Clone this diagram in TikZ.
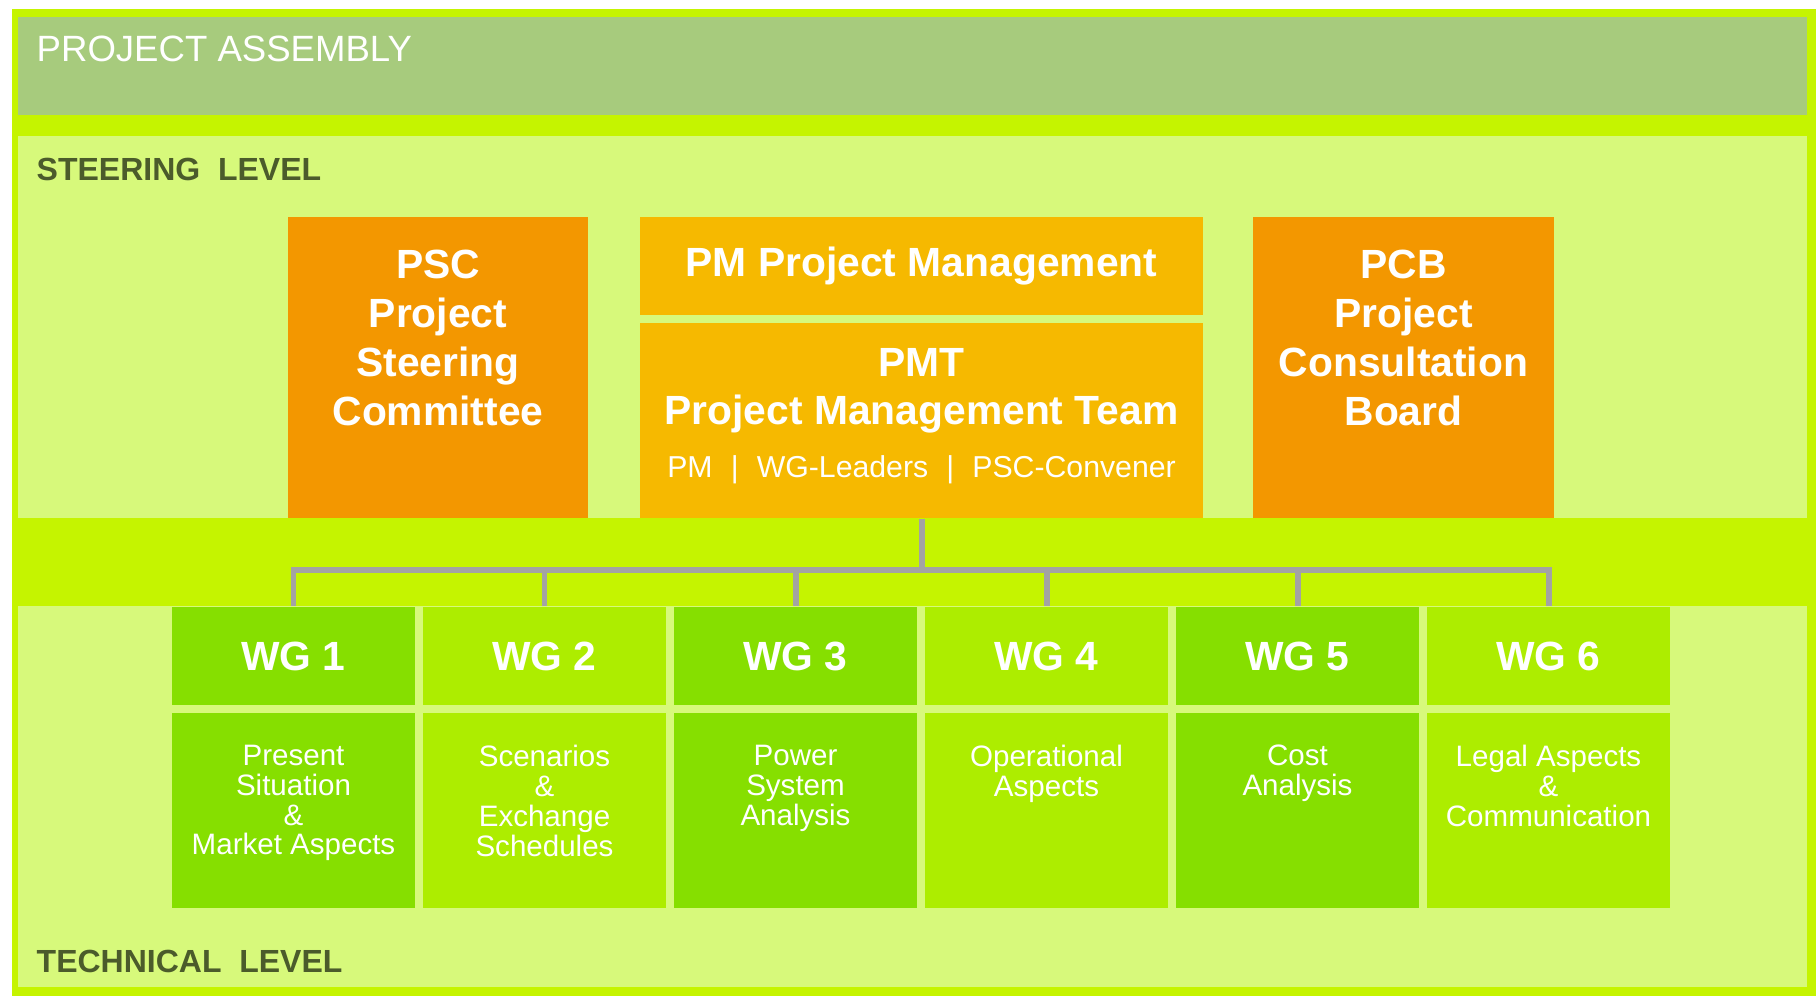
\documentclass[tikz,border=0pt]{standalone}
\usepackage{fontspec}
\setmainfont{Liberation Sans}
\usepackage{tikz}
\usetikzlibrary{positioning}
\definecolor{framegreen}{HTML}{C5F400}
\definecolor{assembly}{HTML}{A7CB7D}
\definecolor{panel}{HTML}{D7F97B}
\definecolor{steer}{HTML}{F39700}
\definecolor{mgmt}{HTML}{F6B900}
\definecolor{wgdark}{HTML}{86DF00}
\definecolor{wglight}{HTML}{ADED00}
\definecolor{linkgray}{HTML}{A3A3A3}
\definecolor{leveltext}{HTML}{4B5B2B}

\begin{document}
\begin{tikzpicture}[x=0.01cm, y=-0.01cm,
    box/.style={inner sep=0pt, minimum width=2.43cm},
    bigtxt/.style={text=white, font=\fontsize{11.6}{13.9}\selectfont\bfseries, align=center, inner sep=0pt},
    smalltxt/.style={text=white, font=\fontsize{8.4}{8.5}\selectfont, align=center, inner sep=0pt},
    level/.style={font=\fontsize{9.1}{11}\selectfont\bfseries, text=leveltext, anchor=base west, inner sep=0pt},
    link/.style={draw=linkgray, line width=1.7pt}]
    \useasboundingbox (0,0) rectangle (1816,996);
    \fill[white] (0,0) rectangle (1816,996);
    \fill[framegreen] (12,9) rectangle (1816,996);
    \fill[assembly] (18,17) rectangle (1807,115);
    \fill[panel] (18,136) rectangle (1807,518);
    \fill[panel] (18,606) rectangle (1807,987);

    \node[level, text=white, font=\fontsize{10.4}{12}\selectfont] (asmlabel) at (36,61) {PROJECT ASSEMBLY};
    \node[level] (steerlabel) at (36,180) {STEERING~\ LEVEL};
    \node[level] (techlabel) at (36,972) {TECHNICAL~\ LEVEL};

    % steering level
    \node[fill=steer, inner sep=0pt, minimum width=3cm, minimum height=3.01cm] (psc) at (438,367.5) {};
    \node[bigtxt, below=0.33cm of psc.north] (psctext) {PSC\\Project\\Steering\\Committee};
    \node[fill=steer, inner sep=0pt, minimum width=3cm, minimum height=3.01cm] (pcb) at (1403.5,367.5) {};
    \node[bigtxt, below=0.33cm of pcb.north] (pcbtext) {PCB\\Project\\Consultation\\Board};
    \node[fill=mgmt, bigtxt, minimum width=5.63cm, minimum height=0.98cm] (pm) at (921.5,266) {PM Project Management};
    \node[fill=mgmt, inner sep=0pt, minimum width=5.63cm, minimum height=1.95cm] (pmt) at (921.5,420.5) {};
    \node[bigtxt, below=0.25cm of pmt.north] (pmttext) {PMT\\Project Management Team};
    \node[smalltxt, font=\fontsize{8.6}{10}\selectfont, anchor=base] (pmtmembers) at (921.5,477)
      {PM\hspace{0.6em}|\hspace{0.6em}WG-Leaders\hspace{0.6em}|\hspace{0.6em}PSC-Convener};

    % technical level
    \foreach \i/\col/\task in {%
      1/wgdark/{Present\\Situation\\\&\\Market Aspects},
      2/wglight/{Scenarios\\\&\\Exchange\\Schedules},
      3/wgdark/{Power\\System\\Analysis},
      4/wglight/{Operational\\Aspects},
      5/wgdark/{Cost\\Analysis},
      6/wglight/{Legal Aspects\\\&\\Communication}%
    } {
      \pgfmathsetmacro\xc{293.5+(\i-1)*251}
      \node[fill=\col, box, bigtxt, minimum height=0.98cm] (wg\i) at (\xc,656) {WG \i};
      \node[fill=\col, box, minimum height=1.95cm] (task\i) at (\xc,810.5) {};
      \node[smalltxt, below=0.32cm of task\i.north] (tasktext\i) {\task};
    }

    \path (pmt.south) ++(0,51.5) coordinate (hub);
    \draw[link] (pmt.south) -- (hub);
    \foreach \i in {1,...,6}
      \draw[link] (hub) -| (wg\i.north);
  \end{tikzpicture}
\end{document}
